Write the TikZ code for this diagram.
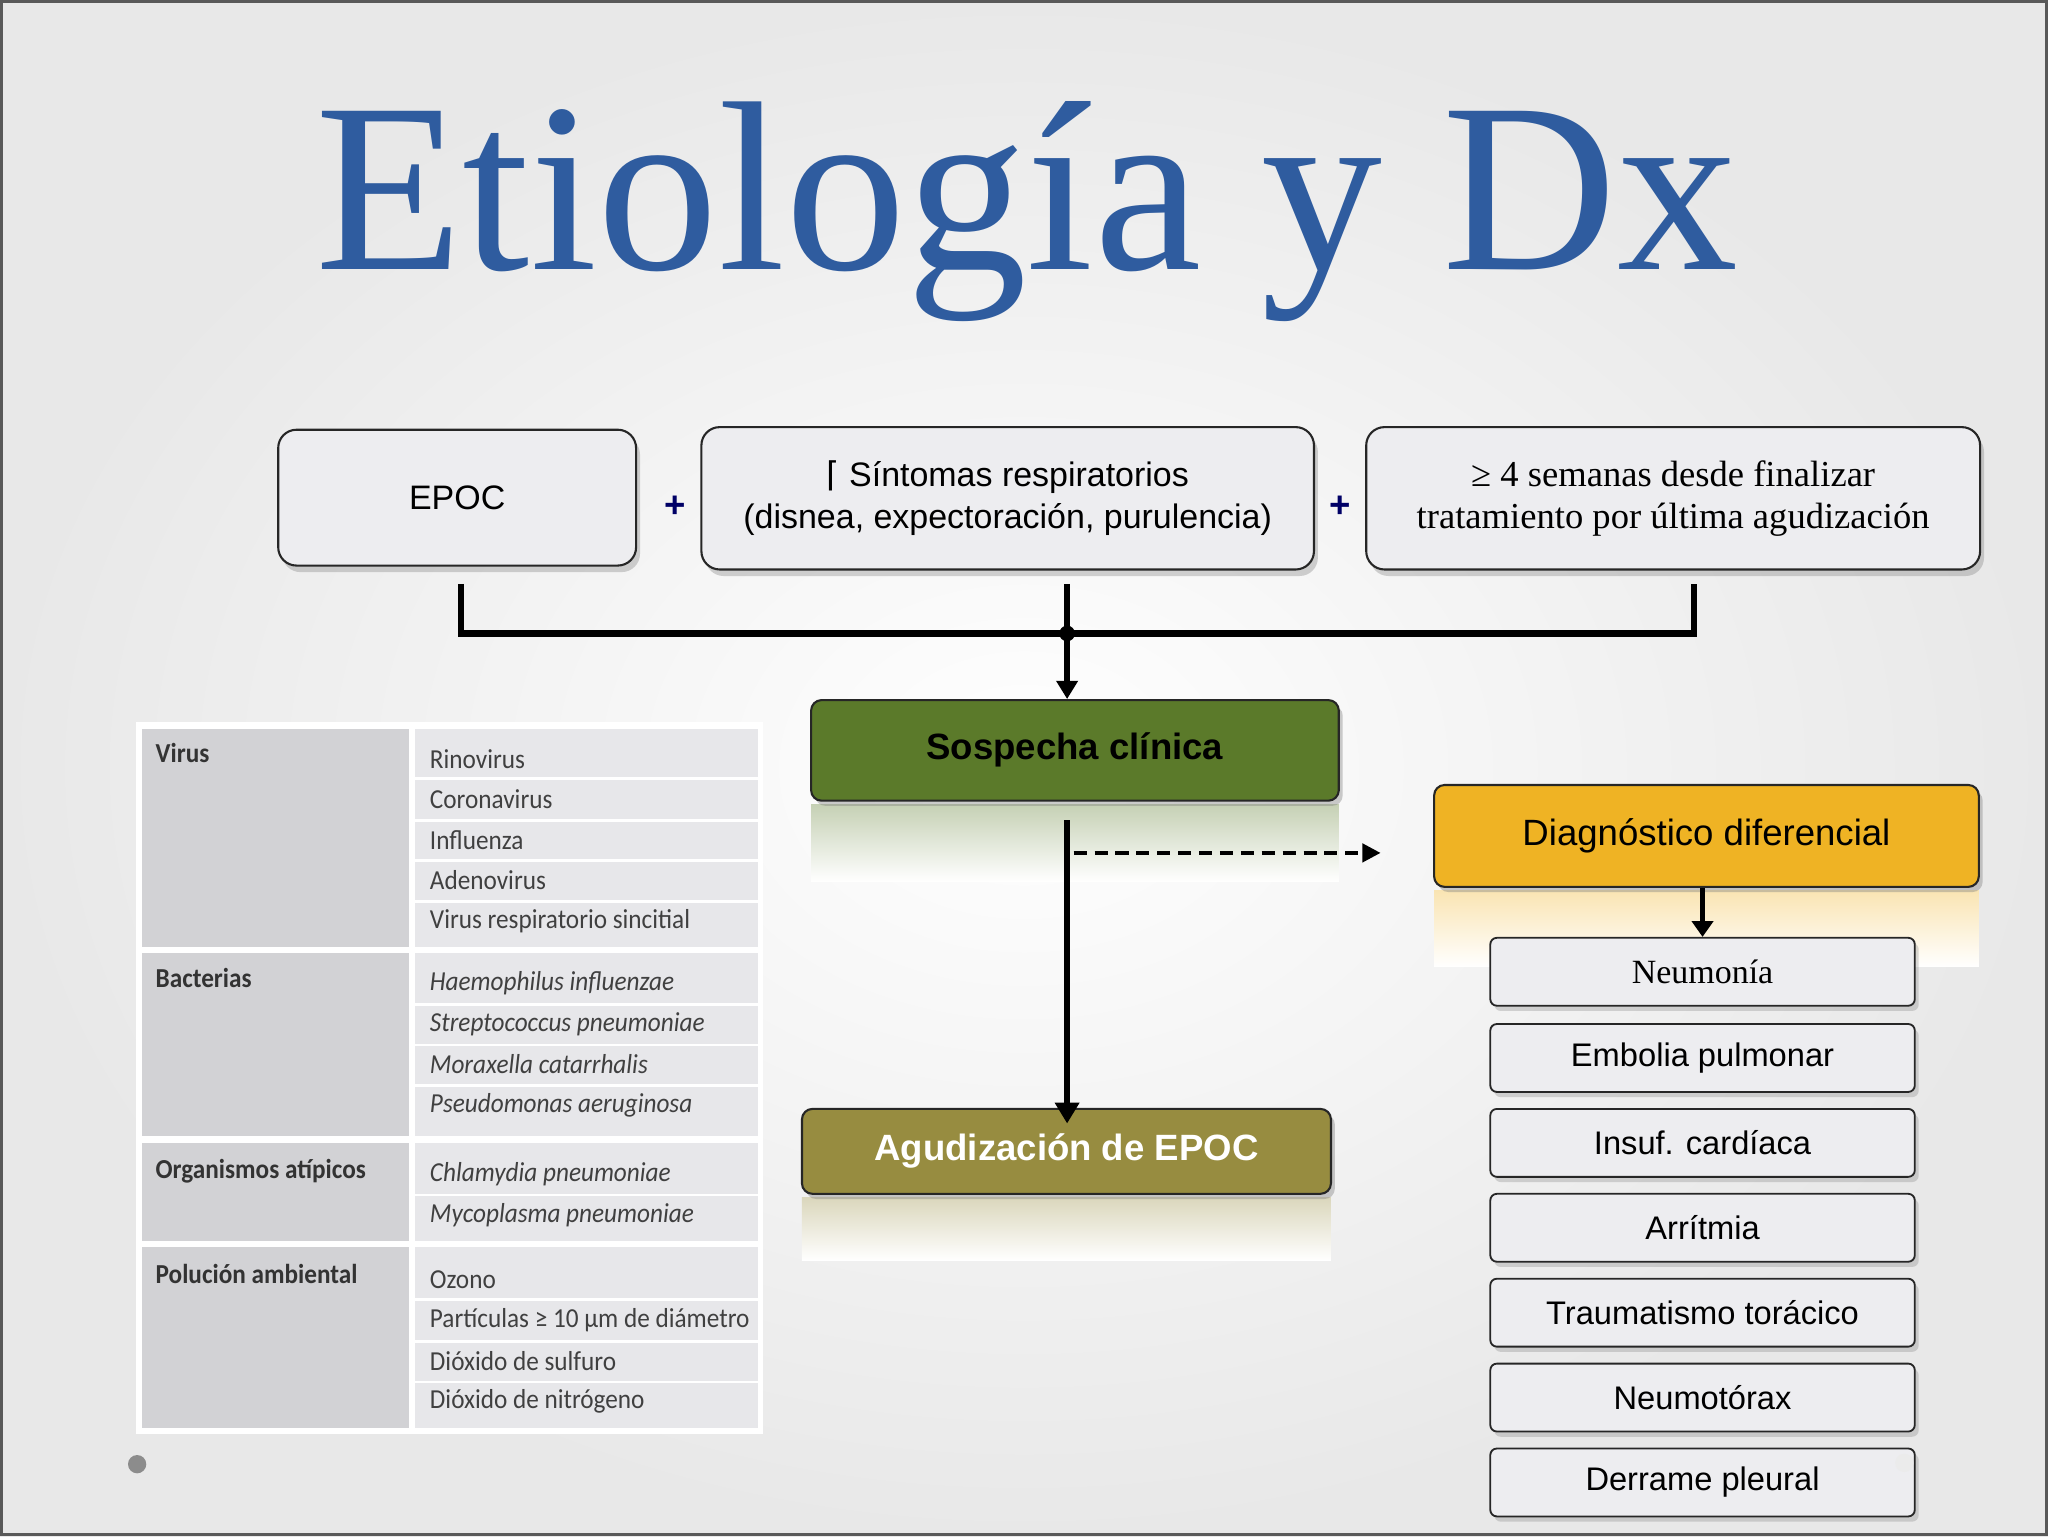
\documentclass[tikz,border=0pt]{standalone}
\usepackage{fontspec}
\setmainfont{Liberation Serif}
\setsansfont{Liberation Sans}
\newfontfamily\tabfont{Carlito}
\newfontfamily\symfont{DejaVu Sans}
\usetikzlibrary{arrows.meta,shadows,shapes.misc}
\definecolor{titleblue}{HTML}{2F5C9F}
\definecolor{boxgray}{HTML}{EDEDF0}
\definecolor{leftcol}{HTML}{D2D2D5}
\definecolor{rightcol}{HTML}{E7E7EA}
\definecolor{sgreen}{HTML}{5B7A2A}
\definecolor{dyellow}{HTML}{EFB324}
\definecolor{olive}{HTML}{978C40}
\tikzset{
  topbox/.style={draw=black!85,line width=1.6pt,fill=boxgray,rounded corners=14pt,inner sep=0pt,align=center,drop shadow={shadow xshift=3pt,shadow yshift=-5pt,opacity=.35}},
  listbox/.style={draw=black!85,line width=1.4pt,fill=boxgray,rounded corners=5pt,minimum width=325pt,minimum height=52pt,inner sep=0pt,font=\sffamily\fontsize{25}{28}\selectfont,drop shadow={shadow xshift=3pt,shadow yshift=-4pt,opacity=.3}},
  mainbox/.style={draw=black!85,line width=1.6pt,rounded corners=8pt,inner sep=0pt,font=\sffamily\bfseries\fontsize{28}{32}\selectfont,drop shadow={shadow xshift=3pt,shadow yshift=-4pt,opacity=.4}},
  conn/.style={line width=5pt,black},
  lc/.style={fill=leftcol,draw=none},
  rc/.style={fill=rightcol,draw=none},
  lt/.style={anchor=north west,inner sep=0pt,font=\tabfont\bfseries\fontsize{21}{24}\selectfont,text=black!80,xscale=0.92},
  rt/.style={anchor=west,inner sep=0pt,font=\tabfont\fontsize{21}{24}\selectfont,text=black!75,xscale=0.92},
  plus/.style={font=\sffamily\bfseries\fontsize{28}{30}\selectfont,text=blue!40!black},
}
\begin{document}
\begin{tikzpicture}[x=1pt,y=-1pt]
\useasboundingbox (0,0) rectangle (1568,1176);
\shade[inner color=white,outer color=black!9] (0,0) rectangle (1568,1176);
\draw[black!65,line width=2pt] (1,1) rectangle (1567,1175);
% title
\node[text=titleblue,font=\fontsize{185}{190}\selectfont,inner sep=0pt] (title) at (786,162) {Etiología y Dx};
% top boxes
\node[topbox,minimum width=274pt,minimum height=104pt,font=\sffamily\fontsize{26}{30}\selectfont] (epoc) at (350,381) {EPOC};
\node[topbox,minimum width=469pt,minimum height=109pt,font=\sffamily\fontsize{26}{32}\selectfont] (sint) at (771.5,381.5) {{\symfont ⌈} Síntomas respiratorios\\(disnea, expectoración, purulencia)};
\node[topbox,minimum width=470pt,minimum height=109pt,font=\fontsize{28}{32}\selectfont] (sem) at (1281,381.5) {≥ 4 semanas desde finalizar\\tratamiento por última agudización};
\node[plus] (p1) at (517,388) {+};
\node[plus] (p2) at (1026,388) {+};
% connectors
\coordinate (a1) at (353,447); \coordinate (a2) at (353,485);
\coordinate (b1) at (1297,447); \coordinate (b2) at (1297,485);
\coordinate (c1) at (817,447);
\draw[conn] (a1) -- (a2) -- (b2) -- (b1);
\fill (817,485) circle (6pt);
% Sospecha
\shade[top color=sgreen!35,bottom color=white,draw=none] (621,616) rectangle (1025,675);
\node[mainbox,fill=sgreen,minimum width=404pt,minimum height=77pt,text=black] (sosp) at (823,574.5) {Sospecha clínica};
\draw[conn,-{Triangle[length=14pt,width=16pt]}] (c1) -- (sosp.north -| c1);
% Agudizacion
\shade[top color=olive!35,bottom color=white,draw=none] (614,917) rectangle (1019,965);
\node[mainbox,fill=olive,minimum width=405pt,minimum height=65pt,text=white] (agud) at (816.5,881.5) {Agudización de EPOC};
\coordinate (s1) at (817,628);
\draw[line width=4.5pt,-{Triangle[length=16pt,width=18pt]}] (s1) -- ([yshift=-12pt]agud.north -| s1);
% Diagnostico
\shade[top color=dyellow!35,bottom color=white,draw=none] (1098,682) rectangle (1515,740);
\node[mainbox,fill=dyellow,minimum width=417pt,minimum height=78pt,font=\sffamily\fontsize{28}{32}\selectfont,text=black] (ddx) at (1306.5,640) {Diagnóstico diferencial};
\coordinate (d0) at (822,653);
\draw[line width=3pt,dash pattern=on 10pt off 6pt,-{Triangle[length=14pt,width=14pt]}] (d0) -- (1057,653) coordinate (d1);
% list
\node[listbox,font=\fontsize{26}{28}\selectfont] (l1) at (1303.5,744) {Neumonía};
\node[listbox] (l2) at (1303.5,810) {Embolia pulmonar};
\node[listbox] (l3) at (1303.5,875) {Insuf. cardíaca};
\node[listbox] (l4) at (1303.5,940) {Arrítmia};
\node[listbox] (l5) at (1303.5,1005) {Traumatismo torácico};
\node[listbox] (l6) at (1303.5,1070) {Neumotórax};
\node[listbox] (l7) at (1303.5,1135) {Derrame pleural};
\draw[line width=4pt,-{Triangle[length=12pt,width=16pt]}] (ddx.south -| l1) -- (l1.north);
% table
\fill[white] (104,553) rectangle (584,1098);
\fill[lc] (109,558) rectangle (313,725);
\fill[lc] (109,730) rectangle (313,870);
\fill[lc] (109,875) rectangle (313,950);
\fill[lc] (109,955) rectangle (313,1093);
\foreach \a/\b in {558/595,597/627,629/658,660/689,691/725,730/768,770/799,801/830,832/870,875/914,916/950,955/994,996/1026,1028/1057,1059/1093}{
  \fill[rc] (318,\a) rectangle (580,\b);
}
\node[lt] (t1) at (119,569) {Virus};
\node[lt] (t2) at (119,741) {Bacterias};
\node[lt] (t3) at (119,887) {Organismos atípicos};
\node[lt] (t4) at (119,968) {Polución ambiental};
\node[rt] (r1) at (329,581) {Rinovirus};
\node[rt] (r2) at (329,612) {Coronavirus};
\node[rt] (r3) at (329,643) {Influenza};
\node[rt] (r4) at (329,674) {Adenovirus};
\node[rt] (r5) at (329,705) {Virus respiratorio sincitial};
\node[rt] (r6) at (329,753) {\itshape Haemophilus influenzae};
\node[rt] (r7) at (329,784) {\itshape Streptococcus pneumoniae};
\node[rt] (r8) at (329,815) {\itshape Moraxella catarrhalis};
\node[rt] (r9) at (329,846) {\itshape Pseudomonas aeruginosa};
\node[rt] (r10) at (329,899) {\itshape Chlamydia pneumoniae};
\node[rt] (r11) at (329,930) {\itshape Mycoplasma pneumoniae};
\node[rt] (r12) at (329,980) {Ozono};
\node[rt] (r13) at (329,1011) {Partículas ≥ 10 µm de diámetro};
\node[rt] (r14) at (329,1042) {Dióxido de sulfuro};
\node[rt] (r15) at (329,1073) {Dióxido de nitrógeno};
% dots
\fill[black!45] (105,1121) circle (7pt);
\fill[black!8] (1458,1120) circle (7pt);
\end{tikzpicture}
\end{document}
